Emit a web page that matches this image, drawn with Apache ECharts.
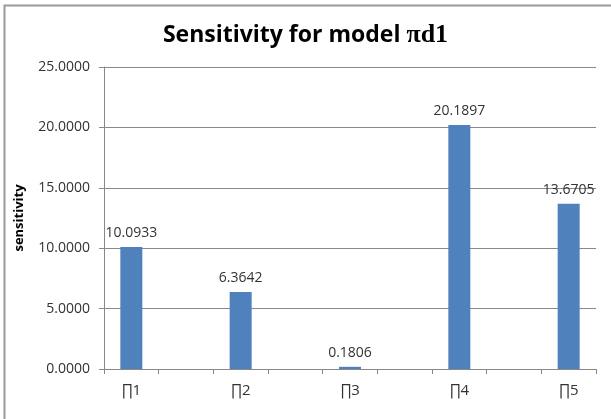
<!DOCTYPE html>
<html>
<head>
<meta charset="utf-8">
<script src="https://cdn.jsdelivr.net/npm/echarts@6/dist/echarts.min.js"></script>
<style>html,body{margin:0;padding:0;background:#fff}#c{width:611px;height:419px}</style>
</head>
<body>
<div id="c"></div>
<script>
const categories = ['∏1', '', '∏2', '', '∏3', '', '∏4', '', '∏5'];
const values = [10.0933, null, 6.3642, null, 0.1806, null, 20.1897, null, 13.6705];
const yTicks = [0, 5, 10, 15, 20, 25];

const chart = echarts.init(document.getElementById('c'), null, {renderer: 'canvas'});
const font = '"Open Sans", "Liberation Sans", Arial, sans-serif';
chart.setOption({
  animation: false,
  backgroundColor: '#fff',
  graphic: [{
    type: 'rect', shape: {x: 4.5, y: 5.5, width: 640, height: 440},
    style: {fill: 'none', stroke: '#9a9a9a', lineWidth: 2}, silent: true, z: -1
  }],
  title: {
    left: 'center', top: 17,
    text: '{a|Sensitivity for model }{b|πd1}',
    textStyle: {
      rich: {
        a: {fontFamily: font, fontWeight: 'bold', fontSize: 23, color: '#000'},
        b: {fontFamily: '"Liberation Serif", "DejaVu Serif", serif', fontWeight: 'bold', fontSize: 26, color: '#000'}
      }
    }
  },
  grid: {left: 104, right: 15, top: 67, bottom: 50, containLabel: false},
  xAxis: {
    type: 'category', data: categories,
    axisLine: {lineStyle: {color: '#888', width: 1}},
    axisTick: {show: true, alignWithLabel: false, interval: 0, length: 5, lineStyle: {color: '#888'}},
    axisLabel: {interval: 0, color: '#333', fontFamily: font, fontSize: 15, margin: 14}
  },
  yAxis: {
    type: 'value', min: 0, max: 25, interval: 5,
    name: 'sensitivity', nameLocation: 'middle', nameGap: 78,
    nameTextStyle: {fontFamily: font, fontSize: 13, fontWeight: 'bold', color: '#000'},
    axisLine: {show: true, lineStyle: {color: '#888'}},
    axisTick: {show: true, length: 5, lineStyle: {color: '#888'}},
    splitLine: {show: true, lineStyle: {color: '#888', width: 1}},
    axisLabel: {color: '#333', fontFamily: font, fontSize: 14, margin: 14,
      formatter: v => yTicks.includes(v) ? v.toFixed(4) : ''}
  },
  series: [{
    type: 'bar', data: values, barWidth: 22,
    itemStyle: {color: '#4F81BD'},
    label: {show: true, position: 'top', distance: 7, color: '#333', fontFamily: font, fontSize: 14,
      formatter: p => p.value == null ? '' : Number(p.value).toFixed(4)}
  }]
});
</script>
</body>
</html>
